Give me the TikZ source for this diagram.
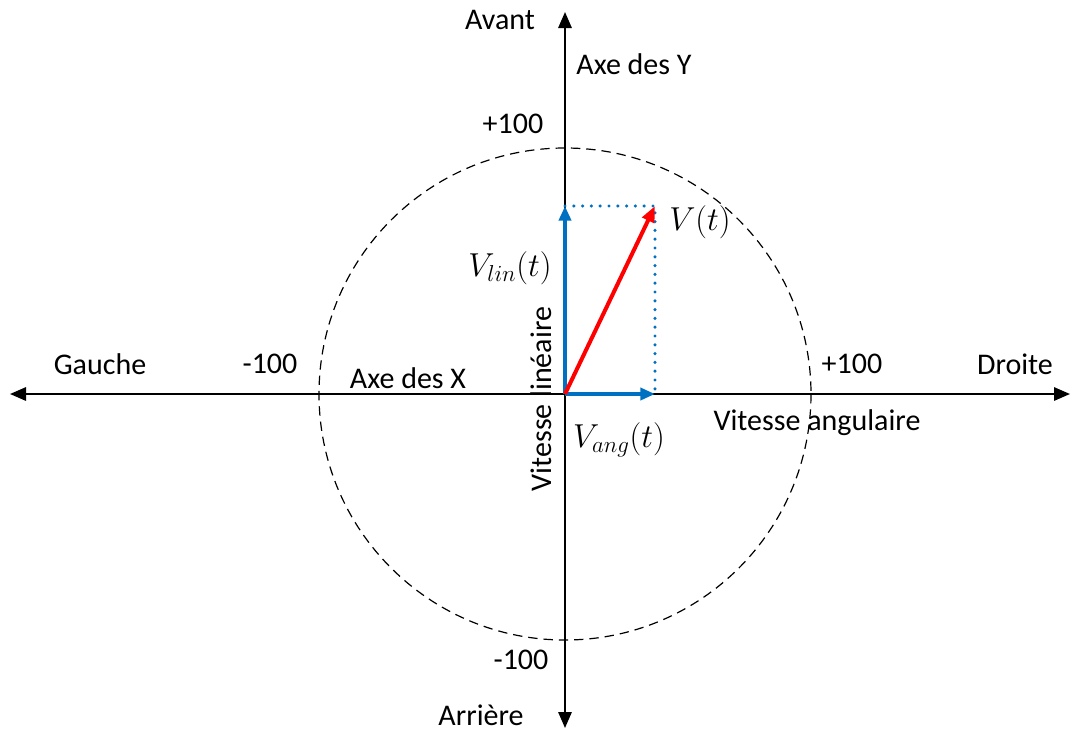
\documentclass[tikz,border=0pt]{standalone}
\usepackage{fontspec}
\setmainfont{Carlito}
\usepackage{tikz}
\usetikzlibrary{arrows.meta}
\definecolor{VecBlue}{RGB}{0,112,192}
\definecolor{VecRed}{RGB}{255,0,0}
\tikzset{
  axe/.style={{Triangle[length=12pt,width=10pt]}-{Triangle[length=12pt,width=10pt]},line width=1.5pt,black},
  cercle/.style={dashed,dash pattern=on 7pt off 4.5pt,line width=0.9pt,black},
  comp/.style={-{Triangle[length=11pt,width=9pt]},line width=3pt,VecBlue},
  resul/.style={-{Triangle[length=12pt,width=9.5pt]},line width=3pt,VecRed},
  proj/.style={line width=2.6pt,VecBlue,line cap=round,dash pattern=on 0pt off 6.6pt},
  lbl/.style={font=\fontsize{22.5}{27}\selectfont,inner sep=0pt},
  mlbl/.style={font=\fontsize{24}{28}\selectfont,inner sep=0pt},
}
\begin{document}
\begin{tikzpicture}[x=0.75pt,y=-0.75pt]
  \useasboundingbox (0,0) rectangle (1072,733);
  % axes
  \coordinate (O) at (565,394);
  \coordinate (xg) at (10,394);
  \coordinate (xd) at (1070,394);
  \coordinate (yh) at (565,12);
  \coordinate (yb) at (565,728);
  \draw[axe] (xg) -- (xd);
  \draw[axe] (yb) -- (yh);
  \draw[cercle] (O) circle[radius=246];
  % vecteurs
  \coordinate (vlin) at (565,206);
  \coordinate (vang) at (655,394);
  \coordinate (vt) at (655,206);
  \draw[proj] (vlin) -- (vt) -- (vang);
  \draw[comp] (O) -- (vlin);
  \draw[comp] (O) -- (vang);
  \draw[resul] (O) -- (vt);
  % textes
  \node[lbl] (avant) at (500,20) {Avant};
  \node[lbl] (axey) at (634,64) {Axe des Y};
  \node[lbl] (yplus) at (513,124) {+100};
  \node[mlbl] (vtl) at (700,222) {$V(t)$};
  \node[mlbl] (vlinl) at (510,268) {$V_{lin}(t)$};
  \node[lbl] (gauche) at (100,364) {Gauche};
  \node[lbl] (xmoins) at (270,364) {-100};
  \node[lbl] (axex) at (408,378) {Axe des X};
  \node[lbl] (xplus) at (852,364) {+100};
  \node[lbl] (droite) at (1015,364) {Droite};
  \node[lbl,rotate=90] (vitlin) at (541,399) {Vitesse linéaire};
  \node[mlbl] (vangl) at (619,440) {$V_{ang}(t)$};
  \node[lbl] (vitang) at (817,423) {Vitesse angulaire};
  \node[lbl] (ymoins) at (521,660) {-100};
  \node[lbl] (arriere) at (481,715) {Arrière};
\end{tikzpicture}
\end{document}
